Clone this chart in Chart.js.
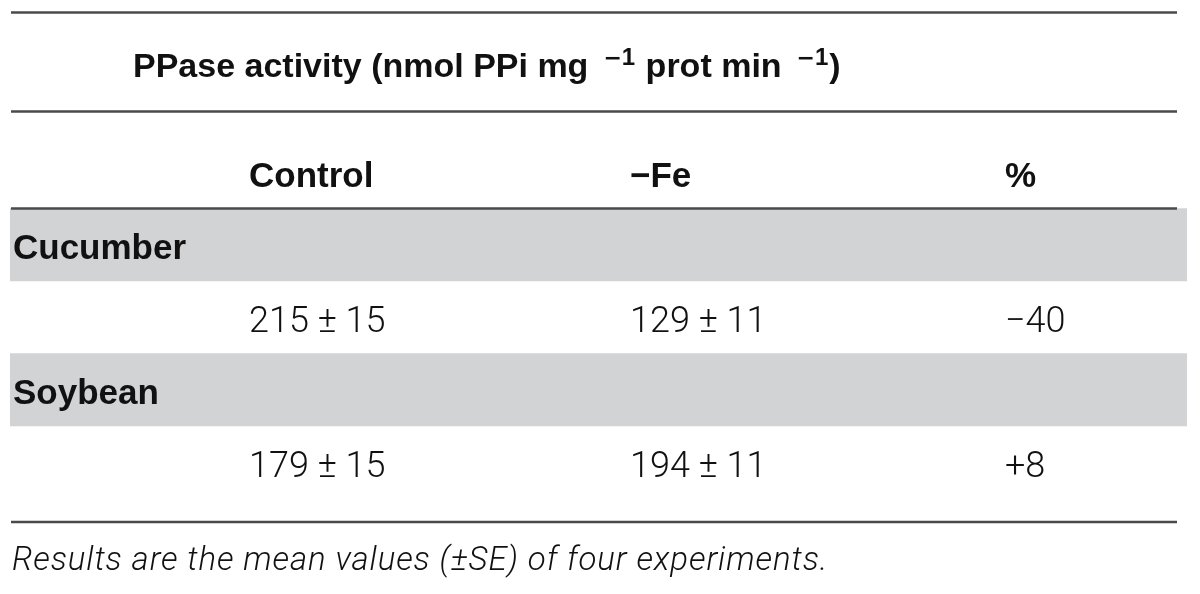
<!DOCTYPE html>
<html>
<head>
<meta charset="utf-8">
<script src="https://cdn.jsdelivr.net/npm/chart.js@4"></script>
<style>
  html, body { margin: 0; padding: 0; background: #ffffff; }
  #wrap { width: 1200px; height: 594px; position: relative; }
</style>
</head>
<body>
<div id="wrap"><canvas id="tableChart"></canvas></div>
<script>
// ---- Table data ----
const species = ['Cucumber', 'Soybean'];
const columnHeads = ['Control', '\u2212Fe', '%'];
const controlMean = [215, 179];
const controlSE = [15, 15];
const feMean = [129, 194];
const feSE = [11, 11];
const pctChange = [-40, 8];
const titleParts = [
  { text: 'PPase activity (nmol PPi mg', sup: false },
  { text: '1', sup: true },
  { text: ' prot min', sup: false },
  { text: '1', sup: true },
  { text: ')', sup: false }
];
const footnote = 'Results are the mean values (\u00b1SE) of four experiments.';

// one row for the column heads, then a shaded name row + a value row per species
const rowKeys = ['head'];
species.forEach(s => { rowKeys.push(s); rowKeys.push(s + ' values'); });

// ---- Look ----
const BAND = '#d1d3d4';
const RULE = '#4a4a4a';
const INK = '#111111';
const boldFont = (px) => `bold ${px}px "Liberation Sans", Arial, sans-serif`;
const lightFont = (px) => `300 ${px}px Roboto, "Liberation Sans", sans-serif`;
const colOffset = [3, 239, 620, 995]; // left edge of each column, from chart left

function fmtPct(v) {
  return v < 0 ? '\u2212' + Math.abs(v) : '+' + v;
}

const tablePlugin = {
  id: 'tableText',
  afterDatasetsDraw(chart) {
    const { ctx, chartArea, scales } = chart;
    const y = scales.y;
    const left = chartArea.left;
    const rowH = y.getPixelForValue(1) - y.getPixelForValue(0);
    const base = (i) => y.getPixelForValue(i) + 14.5;

    ctx.save();
    ctx.textBaseline = 'alphabetic';
    ctx.textAlign = 'left';
    ctx.fillStyle = INK;

    // rules
    ctx.strokeStyle = RULE;
    ctx.lineWidth = 2.5;
    const ruleL = left + 1, ruleR = chartArea.right - 10;
    const rules = [chartArea.top - 123.5, chartArea.top - 24.5,
                   y.getPixelForValue(0) + rowH / 2, chartArea.bottom + 23.5];
    rules.forEach(ry => {
      ctx.beginPath();
      ctx.moveTo(ruleL, ry);
      ctx.lineTo(ruleR, ry);
      ctx.stroke();
    });

    // title, exponents drawn as a raised minus + digit
    let tx = left + 123;
    const titleBase = chartArea.top - 59;
    titleParts.forEach(p => {
      if (p.sup) {
        tx += 15;
        ctx.font = 'bold 22px "DejaVu Sans", sans-serif';
        ctx.fillText('\u2212', tx, titleBase - 12);
        tx += ctx.measureText('\u2212').width;
        ctx.font = boldFont(24);
        ctx.fillText(p.text, tx, titleBase - 12);
        tx += ctx.measureText(p.text).width + 1;
      } else {
        ctx.font = boldFont(34);
        ctx.fillText(p.text, tx, titleBase);
        tx += ctx.measureText(p.text).width;
      }
    });

    // column heads
    ctx.font = boldFont(35);
    columnHeads.forEach((h, c) => {
      ctx.fillText(h, left + colOffset[c + 1], base(0));
    });

    // species rows
    species.forEach((s, i) => {
      const nameRow = rowKeys.indexOf(s);
      const valRow = rowKeys.indexOf(s + ' values');
      ctx.font = boldFont(35);
      ctx.fillText(s, left + colOffset[0], base(nameRow));
      ctx.font = lightFont(36);
      ctx.fillText(controlMean[i] + ' \u00b1 ' + controlSE[i], left + colOffset[1], base(valRow));
      ctx.fillText(feMean[i] + ' \u00b1 ' + feSE[i], left + colOffset[2], base(valRow));
      ctx.fillText(fmtPct(pctChange[i]), left + colOffset[3], base(valRow));
    });

    // footnote
    ctx.font = `italic 300 33px Roboto, "Liberation Sans", sans-serif`;
    ctx.letterSpacing = '0.9px';
    ctx.fillText(footnote, left + 2, chartArea.bottom + 71.5);
    ctx.restore();
  }
};

new Chart(document.getElementById('tableChart'), {
  type: 'bar',
  data: {
    labels: rowKeys,
    datasets: [{
      data: rowKeys.map(r => species.includes(r) ? 1 : null),
      backgroundColor: BAND,
      borderWidth: 0,
      barPercentage: 1,
      categoryPercentage: 1
    }]
  },
  options: {
    indexAxis: 'y',
    responsive: true,
    maintainAspectRatio: false,
    animation: false,
    layout: { padding: { left: 10, right: 13, top: 136, bottom: 95.5 } },
    plugins: {
      legend: { display: false },
      tooltip: { enabled: false }
    },
    scales: {
      x: { type: 'linear', min: 0, max: 1, display: false },
      y: { type: 'category', display: false, offset: true }
    }
  },
  plugins: [tablePlugin]
});
</script>
</body>
</html>
